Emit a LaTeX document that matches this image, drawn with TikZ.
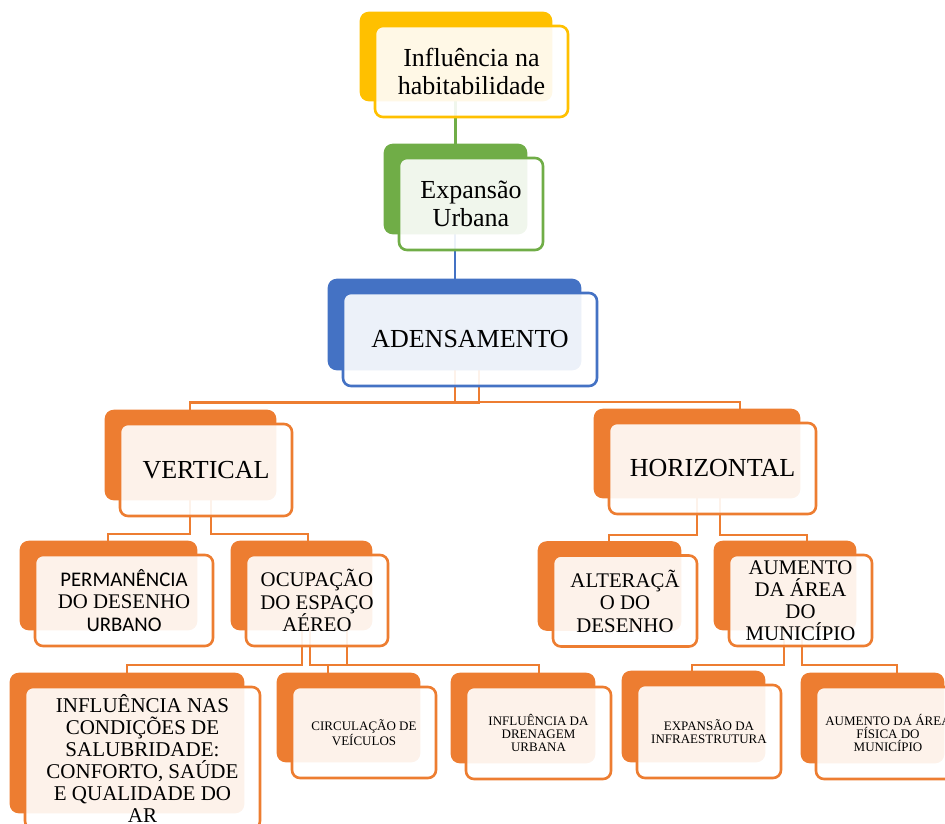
\documentclass[tikz,border=0pt]{standalone}
\usepackage{fontspec}
\setmainfont{Liberation Serif}
\newfontfamily\calib{Carlito}
\usetikzlibrary{calc,backgrounds}

\definecolor{gold}{HTML}{FFC000}
\definecolor{grn}{HTML}{70AD47}
\definecolor{blu}{HTML}{4472C4}
\definecolor{orng}{HTML}{ED7D31}

\begin{document}
\begin{tikzpicture}[
  x=1pt, y=-1pt,
  box/.style={draw=orng, rounded corners=8pt, line width=2.6pt, fill=white,
    fill opacity=0.9, text opacity=1, align=center, inner sep=0pt},
  big/.style={font=\fontsize{26}{28}\selectfont},
  mid/.style={font=\fontsize{20.8}{22.5}\selectfont},
  small/.style={font=\fontsize{13}{13}\selectfont},
  conn/.style={line width=2.5pt, orng}
]
\useasboundingbox (0,0) rectangle (945,823);

% Top chain
\node[box, big, draw=gold, minimum width=193, minimum height=91] (hab) at (471.5,71.5) {Influência na\\habitabilidade};
\node[box, big, draw=grn, minimum width=144, minimum height=92] (exp) at (471,204) {Expansão\\Urbana};
\node[box, big, draw=blu, minimum width=254, minimum height=93] (adens) at (470,339.5) {ADENSAMENTO};

% Second level
\node[box, big, minimum width=172, minimum height=92] (vert) at (206,470) {VERTICAL};
\node[box, big, minimum width=207, minimum height=91] (hor) at (712.5,468.5) {HORIZONTAL};

% Third level
\node[box, mid, minimum width=178, minimum height=91] (perm) at (124,600.5) {{\calib PERMANÊNCIA}\\DO DESENHO\\{\calib URBANO}};
\node[box, mid, minimum width=142, minimum height=91] (ocup) at (317,600.5) {OCUPAÇÃO\\DO ESPAÇO\\AÉREO};
\node[box, mid, minimum width=144, minimum height=91] (alt) at (625,601) {ALTERAÇÃ\\O DO\\DESENHO};
\node[box, mid, font=\fontsize{20.8}{22}\selectfont, minimum width=143, minimum height=91] (aum) at (800.5,600.5) {AUMENTO\\DA ÁREA\\DO\\MUNICÍPIO};

% Fourth level
\node[box, mid, font=\fontsize{21}{22}\selectfont, minimum width=235, minimum height=142] (sal) at (142.5,758) {INFLUÊNCIA NAS\\CONDIÇÕES DE\\SALUBRIDADE:\\CONFORTO, SAÚDE\\E QUALIDADE DO\\AR};
\node[box, small, font=\fontsize{13}{12}\selectfont, minimum width=144, minimum height=91] (circ) at (364,732.5) {CIRCULAÇÃO DE\\VEÍCULOS};
\node[box, small, minimum width=145, minimum height=92] (dren) at (538.5,733) {INFLUÊNCIA DA\\DRENAGEM\\URBANA};
\node[box, small, minimum width=144, minimum height=93] (infra) at (709,731.5) {EXPANSÃO DA\\INFRAESTRUTURA};
\node[box, small, minimum width=144, minimum height=92] (fis) at (888,733) {AUMENTO DA ÁREA\\FÍSICA DO\\MUNICÍPIO};

\begin{scope}[on background layer]
% connectors
\draw[conn, grn] ([xshift=-16pt]hab.center) -- ([xshift=-16pt]hab.center |- exp.center);
\draw[conn, blu] ([xshift=-16pt]exp.center) -- ([xshift=-16pt]exp.center |- adens.center);
\draw[conn] ([xshift=9pt]adens.center) -- ++(0,63) -| ([xshift=-16pt]vert.center);
\draw[conn] ([xshift=-15pt]adens.center) -- ++(0,62.5) -| ([xshift=27.5pt]hor.center);
\draw[conn] ([xshift=-16pt]vert.center) -- ++(0,64) -| ([xshift=-16pt]perm.center);
\draw[conn] ([xshift=5pt]vert.center) -- ++(0,64) -| ([xshift=-9pt]ocup.center);
\draw[conn] ([xshift=-15.5pt]hor.center) -- ++(0,66.5) -| ([xshift=-16pt]alt.center);
\draw[conn] ([xshift=7.5pt]hor.center) -- ++(0,66.5) -| ([xshift=6.5pt]aum.center);
\draw[conn] ([xshift=-15pt]ocup.center) -- ++(0,64.5) -| ([xshift=-15.5pt]sal.center);
\draw[conn] ([xshift=30pt]ocup.center) -- ++(0,64.5) -| ([xshift=-36pt]circ.center);
\draw[conn] ([xshift=-7pt]ocup.center) -- ++(0,64.5) -| ([xshift=0.5pt]dren.center);
\draw[conn] ([xshift=-16.5pt]aum.center) -- ++(0,64.5) -| ([xshift=-17pt]infra.center);
\draw[conn] ([xshift=1.5pt]aum.center) -- ++(0,64.5) -| ([xshift=9pt]fis.center);
% solid back plates
\foreach \n/\c in {hab/gold, exp/grn, adens/blu, vert/orng, hor/orng, perm/orng,
    ocup/orng, alt/orng, aum/orng, sal/orng, circ/orng, dren/orng, infra/orng, fis/orng}
  \fill[\c, rounded corners=9pt] ($(\n.north west)+(-14,-13)$) rectangle ($(\n.south east)+(-17,-17)$);
\end{scope}

\end{tikzpicture}
\end{document}
